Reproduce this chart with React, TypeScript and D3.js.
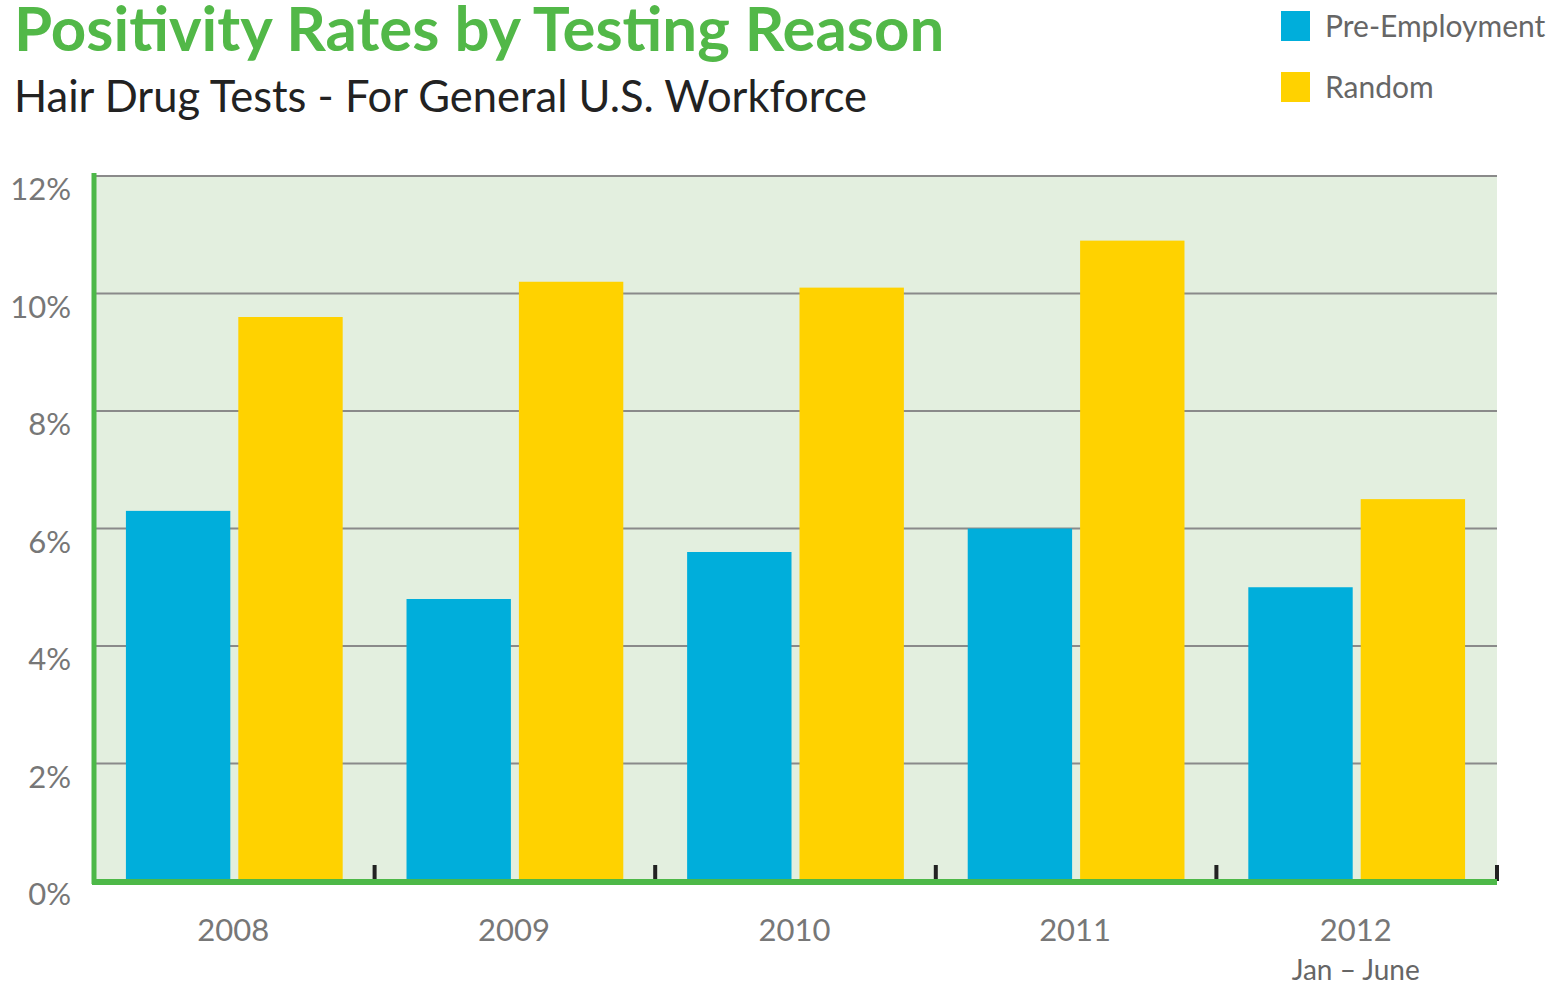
import { useEffect, useRef } from "react";
import * as d3 from "d3";

// values (percent)
const years = ["2008", "2009", "2010", "2011", "2012"];
const preEmployment = [6.3, 4.8, 5.6, 6.0, 5.0];
const random = [9.6, 10.2, 10.1, 10.9, 6.5];
const yTicks = [0, 2, 4, 6, 8, 10, 12];
const seriesNames = ["Pre-Employment", "Random"];
const seriesColors = ["#00aedb", "#ffd200"];

const W = 1555;
const H = 985;

const App = () => {
  const ref = useRef<SVGSVGElement | null>(null);

  useEffect(() => {
    const svg = d3.select(ref.current);
    svg.selectAll("*").remove();

    const margin = { left: 94, right: 58, top: 176, bottom: 104 };
    const x0 = margin.left;
    const x1 = W - margin.right;
    const yTop = margin.top;
    const yBot = H - margin.bottom;

    const x = d3.scaleBand().domain(years).range([x0, x1]).paddingInner(0).paddingOuter(0);
    const y = d3.scaleLinear().domain([0, 12]).range([yBot, yTop]);
    const bw = x.bandwidth();
    const barW = bw * 0.372;
    const gap = 8;
    const lead = (bw - 2 * barW - gap) / 2;

    // title
    svg.append("text")
      .attr("x", 14).attr("y", 51)
      .attr("font-family", "Lato").attr("font-weight", 700)
      .attr("font-size", 61.8).attr("fill", "#52b848")
      .text("Positivity Rates by Testing Reason");
    svg.append("text")
      .attr("x", 14).attr("y", 112)
      .attr("font-family", "Lato").attr("font-weight", 400)
      .attr("font-size", 43.5).attr("fill", "#222")
      .text("Hair Drug Tests - For General U.S. Workforce");

    // legend
    const leg = svg.append("g");
    seriesNames.forEach((name, i) => {
      leg.append("rect")
        .attr("x", 1281).attr("y", 11 + i * 61)
        .attr("width", 29).attr("height", 30)
        .attr("fill", seriesColors[i]);
      leg.append("text")
        .attr("x", 1325).attr("y", 37 + i * 61)
        .attr("font-family", "Lato").attr("font-size", 30)
        .attr("fill", "#666")
        .text(name);
    });

    // plot background
    svg.append("rect")
      .attr("x", x0).attr("y", yTop)
      .attr("width", x1 - x0).attr("height", yBot - yTop)
      .attr("fill", "#e3efdf");

    // grid
    svg.append("g")
      .selectAll("line")
      .data(yTicks.filter((t) => t > 0))
      .join("line")
      .attr("x1", x0).attr("x2", x1)
      .attr("y1", (d) => y(d)).attr("y2", (d) => y(d))
      .attr("stroke", "#8a8a8a").attr("stroke-width", 2);

    // y labels
    svg.append("g")
      .selectAll("text")
      .data(yTicks)
      .join("text")
      .attr("x", 71).attr("y", (d) => y(d) + 24)
      .attr("text-anchor", "end")
      .attr("font-family", "Lato").attr("font-weight", 400)
      .attr("font-size", 31).attr("fill", "#777")
      .text((d) => `${d}%`);

    // bars
    const data = [preEmployment, random];
    data.forEach((vals, s) => {
      svg.append("g")
        .selectAll("rect")
        .data(vals)
        .join("rect")
        .attr("x", (_, i) => (x(years[i]) as number) + lead + s * (barW + gap))
        .attr("y", (d) => y(d))
        .attr("width", barW)
        .attr("height", (d) => yBot - y(d))
        .attr("fill", seriesColors[s]);
    });

    // ticks between groups
    svg.append("g")
      .selectAll("rect")
      .data(years.slice(1).concat(["end"]))
      .join("rect")
      .attr("x", (d) => (d === "end" ? x1 : (x(d) as number)) - 2)
      .attr("y", yBot - 16)
      .attr("width", 4).attr("height", 16)
      .attr("fill", "#222");

    // axes (green)
    svg.append("line")
      .attr("x1", x0).attr("x2", x0)
      .attr("y1", yTop - 3).attr("y2", yBot + 3)
      .attr("stroke", "#4db848").attr("stroke-width", 5);
    svg.append("line")
      .attr("x1", x0 - 2).attr("x2", x1)
      .attr("y1", yBot + 1).attr("y2", yBot + 1)
      .attr("stroke", "#4db848").attr("stroke-width", 6);

    // x labels
    svg.append("g")
      .selectAll("text")
      .data(years)
      .join("text")
      .attr("x", (d) => (x(d) as number) + bw / 2 - 1)
      .attr("y", 941)
      .attr("text-anchor", "middle")
      .attr("font-family", "Lato").attr("font-weight", 400)
      .attr("font-size", 31).attr("fill", "#777")
      .text((d) => d);
    svg.append("text")
      .attr("x", (x("2012") as number) + bw / 2 - 1)
      .attr("y", 980)
      .attr("text-anchor", "middle")
      .attr("font-family", "Lato").attr("font-weight", 400)
      .attr("font-size", 28).attr("fill", "#666")
      .text("Jan \u2013 June");
  }, []);

  return (
    <svg
      ref={ref}
      width={W}
      height={H}
      style={{ display: "block", position: "absolute", left: 0, top: 0, background: "#fff" }}
    />
  );
};

export default App;
